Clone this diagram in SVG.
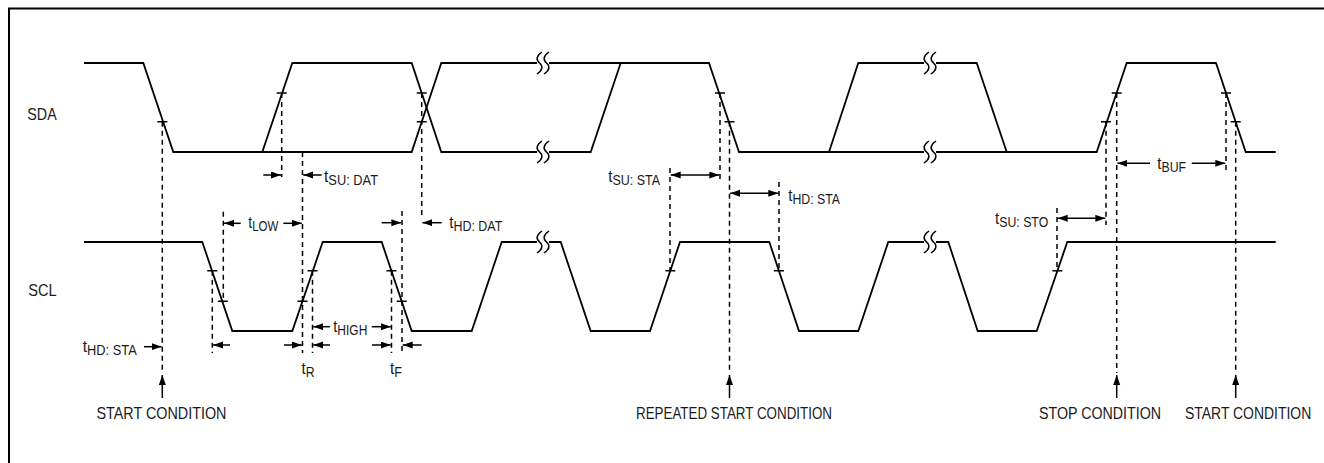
<svg xmlns="http://www.w3.org/2000/svg" xmlns:xlink="http://www.w3.org/1999/xlink" width="1324" height="463" viewBox="0 0 1324 463">
<style>
.frame{stroke:#000;stroke-width:2;fill:none}
.wave{stroke:#000;stroke-width:1.8;fill:none;stroke-linejoin:miter}
.dash{stroke:#000;stroke-width:1.5;fill:none;stroke-dasharray:5 4}
.tick{stroke:#000;stroke-width:1.5}
.arr{stroke:#000;stroke-width:1.5;fill:none;marker-end:url(#ah)}
.darr{stroke:#000;stroke-width:1.5;fill:none;marker-end:url(#ah);marker-start:url(#ah)}
.brk{stroke:#000;stroke-width:1.5;fill:none}
text{font-family:"Liberation Sans",Arial,sans-serif;fill:#1a1a1a}
.lbl{font-size:16.5px}
.t{font-size:17px}
.sub{font-size:14px}
</style>
<defs>
<marker id="ah" markerUnits="userSpaceOnUse" markerWidth="11" markerHeight="8" refX="10" refY="3.5" orient="auto-start-reverse">
<path d="M0,0 L10,3.5 L0,7 z" fill="#000"/>
</marker>
<g id="brk">
<path d="M-1,-11 C-7,-7 -7,-3 -3.5,0 C0,3 0,7 -6,11"/>
<path d="M6,-11 C0,-7 0,-3 3.5,0 C7,3 7,7 1,11"/>
</g>
</defs>

<g id="frame">
<path class="frame" d="M9,463 V8.5 H1324"/>
</g>

<g id="sda">
<text class="lbl" x="27.3" y="120" textLength="29.4" lengthAdjust="spacingAndGlyphs">SDA</text>
<g class="wave">
<path d="M84,63 H143.3 L173.3,152 H411.7 L441.3,63 H537"/>
<path d="M262.3,152 L292.3,63 H411.7 L441.3,152 H537"/>
<path d="M549,63 H709 L739,152 H924"/>
<path d="M549,152 H590.7 L620.7,63"/>
<path d="M829,152 L858.3,63 H924"/>
<path d="M936,63 H976.7 L1006.7,152"/>
<path d="M936,152 H1096.7 L1126.7,63 H1216 L1245.7,152 H1275.7"/>
</g>
<g class="brk">
<use xlink:href="#brk" x="543" y="63"/>
<use xlink:href="#brk" x="543" y="152"/>
<use xlink:href="#brk" x="930" y="63"/>
<use xlink:href="#brk" x="930" y="152"/>
</g>
</g>

<g id="scl">
<text class="lbl" x="28.3" y="296" textLength="28.4" lengthAdjust="spacingAndGlyphs">SCL</text>
<g class="wave">
<path d="M84,242 H202.3 L232.3,331 H292.3 L322.7,242 H381.7 L411.7,331 H471.7 L501.7,242 H537"/>
<path d="M549,242 H560.7 L590.7,331 H650 L680,242 H769.3 L799,331 H858.3 L888.3,242 H924"/>
<path d="M936,242 H948.3 L977.7,331 H1036.7 L1067.3,242 H1275.7"/>
</g>
<g class="brk">
<use xlink:href="#brk" x="543" y="242"/>
<use xlink:href="#brk" x="930" y="242"/>
</g>
</g>

<g id="ticks" class="tick">
<path d="M157.3,121.7h10 M276.7,93h10 M416.7,93h10 M416.7,121.7h10 M715,93h10 M724.5,121.7h10 M1101,121.7h10 M1111.7,93h10 M1221,93h10 M1230.7,121.7h10"/>
<path d="M207.3,270.7h10 M217.8,301.3h10 M297.5,301.3h10 M307.5,270.7h10 M386.5,270.7h10 M396.7,301.3h10 M665.3,270.7h10 M773.9,270.7h10 M1052.4,270.7h10"/>
</g>

<g id="connectors">
<g class="dash">
<path d="M162.3,121.7 V373"/>
<path d="M281.7,93 V177"/>
<path d="M302.5,152 V353"/>
<path d="M421.7,93 V217"/>
<path d="M212.3,270.7 V353"/>
<path d="M223.3,211.7 V301.3"/>
<path d="M312.5,270.7 V353"/>
<path d="M391.5,270.7 V353"/>
<path d="M402,211 V353"/>
<path d="M720,93 V181"/>
<path d="M729.5,121.7 V373"/>
<path d="M670,168 V270.7"/>
<path d="M779,182 V270.7"/>
<path d="M1057,208 V270.7"/>
<path d="M1106,121.7 V225"/>
<path d="M1116.7,93 V373"/>
<path d="M1226,93 V172"/>
<path d="M1235.7,121.7 V373"/>
</g>
<path class="arr" d="M263.3,175 H281"/>
<path class="arr" d="M321.7,175 H303.2"/>
<path class="arr" d="M240.7,223.3 H224"/>
<path class="arr" d="M283.3,223.3 H301.8"/>
<path class="arr" d="M381.7,222.7 H401.3"/>
<path class="arr" d="M441.7,222.7 H422.4"/>
<path class="arr" d="M330,326.7 H313.2"/>
<path class="arr" d="M371.7,326.7 H390.8"/>
<path class="arr" d="M144,346.7 H161.6"/>
<path class="arr" d="M230,345 H213"/>
<path class="arr" d="M284,345 H301.8"/>
<path class="arr" d="M330,345 H313.2"/>
<path class="arr" d="M372,345 H390.8"/>
<path class="arr" d="M421.7,345 H402.7"/>
<path class="arr" d="M1150,163.3 H1117.4"/>
<path class="arr" d="M1191.7,163.3 H1225.3"/>
<path class="darr" d="M670.7,175 H719.3"/>
<path class="darr" d="M730.2,193.3 H778.3"/>
<path class="darr" d="M1057.7,218.3 H1105.3"/>
<path class="arr" d="M162.3,398 V375"/>
<path class="arr" d="M729.5,398 V375"/>
<path class="arr" d="M1116.7,398 V375"/>
<path class="arr" d="M1235.7,398 V375"/>
</g>

<g id="labels">
<text class="t" x="324" y="181.5" textLength="54" lengthAdjust="spacingAndGlyphs">t<tspan class="sub" dy="3">SU: DAT</tspan></text>
<text class="t" x="248.3" y="228.3" textLength="30" lengthAdjust="spacingAndGlyphs">t<tspan class="sub" dy="3">LOW</tspan></text>
<text class="t" x="449.3" y="228.3" textLength="53" lengthAdjust="spacingAndGlyphs">t<tspan class="sub" dy="3">HD: DAT</tspan></text>
<text class="t" x="333.3" y="331.7" textLength="34" lengthAdjust="spacingAndGlyphs">t<tspan class="sub" dy="3">HIGH</tspan></text>
<text class="t" x="82.7" y="351.7" textLength="54" lengthAdjust="spacingAndGlyphs">t<tspan class="sub" dy="3">HD: STA</tspan></text>
<text class="t" x="301.5" y="373.7" textLength="13" lengthAdjust="spacingAndGlyphs">t<tspan class="sub" dy="3">R</tspan></text>
<text class="t" x="390" y="373.7" textLength="12" lengthAdjust="spacingAndGlyphs">t<tspan class="sub" dy="3">F</tspan></text>
<text class="t" x="608.3" y="181.7" textLength="51.7" lengthAdjust="spacingAndGlyphs">t<tspan class="sub" dy="3">SU: STA</tspan></text>
<text class="t" x="788.3" y="200.5" textLength="51.7" lengthAdjust="spacingAndGlyphs">t<tspan class="sub" dy="3">HD: STA</tspan></text>
<text class="t" x="995" y="224" textLength="53.3" lengthAdjust="spacingAndGlyphs">t<tspan class="sub" dy="3">SU: STO</tspan></text>
<text class="t" x="1157.3" y="168.5" textLength="28.7" lengthAdjust="spacingAndGlyphs">t<tspan class="sub" dy="3">BUF</tspan></text>
<text class="lbl" x="96.5" y="419" textLength="130" lengthAdjust="spacingAndGlyphs">START CONDITION</text>
<text class="lbl" x="636" y="419" textLength="196" lengthAdjust="spacingAndGlyphs">REPEATED START CONDITION</text>
<text class="lbl" x="1039" y="419" textLength="122" lengthAdjust="spacingAndGlyphs">STOP CONDITION</text>
<text class="lbl" transform="translate(1185,419) scale(0.845,1)" x="0" y="0">START CONDITION</text>
</g>
</svg>
